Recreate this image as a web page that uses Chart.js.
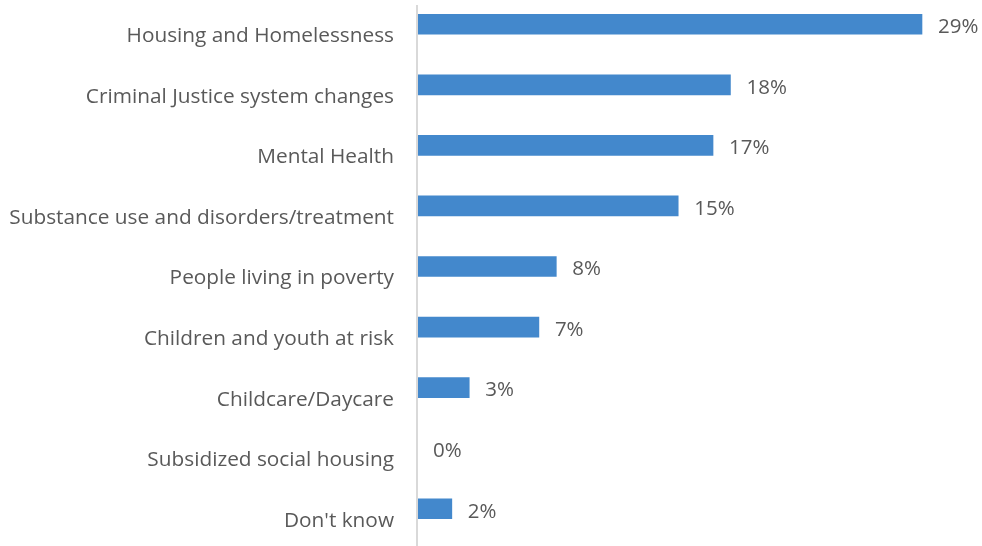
<!DOCTYPE html>
<html>
<head>
<meta charset="utf-8">
<script src="https://cdn.jsdelivr.net/npm/chart.js@4"></script>
<style>
  html, body { margin: 0; padding: 0; background: #fff; overflow: hidden; }
  #wrap { position: absolute; left: 0; top: -6px; width: 982px; height: 552px; }
</style>
</head>
<body>
<div id="wrap"><canvas id="issues"></canvas></div>
<script>
// Priority issues, share of responses
const categories = [
  'Housing and Homelessness',
  'Criminal Justice system changes',
  'Mental Health',
  'Substance use and disorders/treatment',
  'People living in poverty',
  'Children and youth at risk',
  'Childcare/Daycare',
  'Subsidized social housing',
  "Don't know"
];
const shares = [29, 18, 17, 15, 8, 7, 3, 0, 2];

const textColor = '#595959';
const fontFamily = '"Open Sans", sans-serif';

// value labels to the right of each bar, plus the vertical axis line
const barLabels = {
  id: 'barLabels',
  afterDraw(chart) {
    const ctx = chart.ctx;
    const x = chart.scales.x;
    const meta = chart.getDatasetMeta(0);
    ctx.save();
    ctx.strokeStyle = '#d9d9d9';
    ctx.lineWidth = 2;
    const x0 = Math.round(x.getPixelForValue(0));
    ctx.beginPath();
    ctx.moveTo(x0, 11);
    ctx.lineTo(x0, chart.height);
    ctx.stroke();

    ctx.fillStyle = textColor;
    ctx.font = '20.5px ' + fontFamily;
    ctx.textAlign = 'left';
    ctx.textBaseline = 'middle';
    meta.data.forEach((bar, i) => {
      ctx.fillText(shares[i] + '%', bar.x + 16, bar.y + 3);
    });
    ctx.restore();
  }
};

new Chart(document.getElementById('issues').getContext('2d'), {
  type: 'bar',
  data: {
    labels: categories,
    datasets: [{
      data: shares,
      backgroundColor: '#4388cc',
      barThickness: 20
    }]
  },
  options: {
    indexAxis: 'y',
    responsive: true,
    maintainAspectRatio: false,
    animation: false,
    layout: { padding: { right: 42.6, left: 0, top: 0, bottom: 7 } },
    plugins: {
      legend: { display: false },
      tooltip: { enabled: false }
    },
    scales: {
      x: {
        min: 0,
        max: 30,
        display: false
      },
      y: {
        offset: true,
        grid: { display: false, drawTicks: false },
        border: { display: false },
        afterFit(scale) {
          scale.width = 417;
          scale.paddingTop = 0;
          scale.paddingBottom = 0;
        },
        ticks: {
          color: textColor,
          padding: 23,
          labelOffset: 12,
          font: { family: fontFamily, size: 20.8 }
        }
      }
    }
  },
  plugins: [barLabels]
});
</script>
</body>
</html>
